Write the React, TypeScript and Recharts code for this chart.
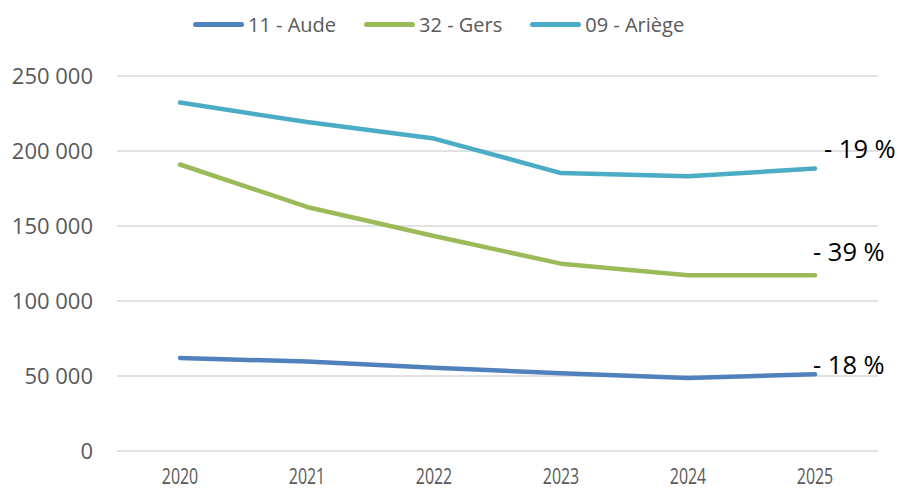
import { LineChart, Line, XAxis, YAxis, CartesianGrid, LabelList } from 'recharts';

const years = ['2020', '2021', '2022', '2023', '2024', '2025'];
const aude = [62000, 59600, 55500, 51800, 48700, 51100];
const gers = [191000, 162700, 143300, 124900, 117100, 117100];
const ariege = [232300, 219300, 208300, 185300, 183100, 188300];
const yTicks = [0, 50000, 100000, 150000, 200000, 250000];
const seriesNames = ['11 - Aude', '32 - Gers', '09 - Ariège'];
const changeLabels = ['- 18 %', '- 39 %', '- 19 %'];

const data = years.map((year, i) => ({
  year,
  aude: aude[i],
  gers: gers[i],
  ariege: ariege[i],
}));

const FONT = '"Open Sans", "Noto Sans", sans-serif';
const TEXT = '#595959';

const series = [
  { key: 'aude', name: seriesNames[0], color: '#4F81BD', label: changeLabels[0], dx: -2, dy: -10 },
  { key: 'gers', name: seriesNames[1], color: '#9BBB59', label: changeLabels[1], dx: -2, dy: -24 },
  { key: 'ariege', name: seriesNames[2], color: '#4BACC6', label: changeLabels[2], dx: 9, dy: -21 },
];

const formatThousands = (v: number) =>
  String(v).replace(/\B(?=(\d{3})+(?!\d))/g, ' ');

function endLabel(text: string, dx: number, dy: number) {
  return (props: any) => {
    if (props.index !== years.length - 1) return null;
    return (
      <text
        x={Number(props.x) + dx}
        y={Number(props.y) + dy}
        dominantBaseline="central"
        fontSize={25.5}
        fontFamily={FONT}
        fill="#000"
      >
        {text}
      </text>
    );
  };
}

function YearTick(props: any) {
  const { x, y, payload } = props;
  return (
    <g transform={`translate(${x},${y})`}>
      <text
        transform="scale(0.76,1)"
        textAnchor="middle"
        y={11}
        fontSize={21}
        fontFamily={FONT}
        fill={TEXT}
      >
        {payload.value}
      </text>
    </g>
  );
}

export default function App() {
  return (
    <div style={{ position: 'absolute', left: 0, top: 0, width: 902, height: 490, background: '#fff' }}>
      <div
        style={{
          position: 'absolute',
          top: 10,
          left: 193,
          display: 'flex',
          alignItems: 'center',
          height: 28,
          fontFamily: FONT,
          fontSize: 20,
          color: TEXT,
        }}
      >
        {series.map((s) => (
          <div key={s.key} style={{ display: 'flex', alignItems: 'center', marginRight: 28 }}>
            <span
              style={{
                display: 'inline-block',
                width: 51,
                height: 5,
                borderRadius: 3,
                background: s.color,
                marginRight: 4,
              }}
            />
            <span>{s.name}</span>
          </div>
        ))}
      </div>
      <LineChart width={902} height={490} data={data} margin={{ top: 76, right: 24, bottom: 0, left: 0 }}>
        <CartesianGrid vertical={false} stroke="#D9D9D9" strokeWidth={1.3} />
        <XAxis
          dataKey="year"
          axisLine={false}
          tickLine={false}
          tickSize={0}
          tickMargin={22}
          height={39}
          padding={{ left: 63, right: 63 }}
          tick={<YearTick />}
          interval={0}
        />
        <YAxis
          domain={[0, 250000]}
          ticks={yTicks}
          width={117}
          axisLine={false}
          tickLine={false}
          tickSize={0}
          tickMargin={24}
          tickFormatter={formatThousands}
          tick={{ fontSize: 22, fill: TEXT, fontFamily: FONT }}
        />
        {series.map((s) => (
          <Line
            key={s.key}
            type="linear"
            dataKey={s.key}
            name={s.name}
            stroke={s.color}
            strokeWidth={4.5}
            strokeLinecap="round"
            strokeLinejoin="round"
            dot={false}
            activeDot={false}
            isAnimationActive={false}
          >
            <LabelList dataKey={s.key} content={endLabel(s.label, s.dx, s.dy)} />
          </Line>
        ))}
      </LineChart>
    </div>
  );
}
